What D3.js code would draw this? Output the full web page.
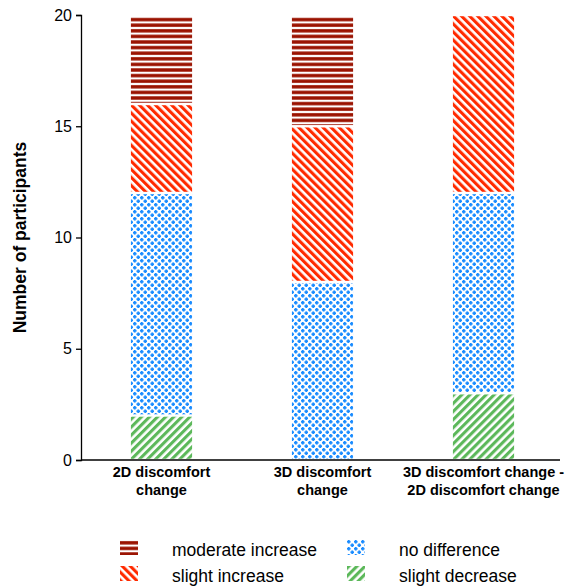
<!DOCTYPE html>
<html>
<head>
<meta charset="utf-8">
<script src="https://cdn.jsdelivr.net/npm/d3@7"></script>
<style>
  body { margin: 0; background: #fff; }
  text { font-family: "Liberation Sans", Arial, sans-serif; }
</style>
</head>
<body>
<div id="chart"></div>
<script>
// categories (two-line labels)
var categories = ["2D discomfort change", "3D discomfort change", "3D discomfort change - 2D discomfort change"];
var categoryLines = [["2D discomfort", "change"], ["3D discomfort", "change"], ["3D discomfort change -", "2D discomfort change"]];

// series values, stacked bottom to top
var seriesNames = ["slight decrease", "no difference", "slight increase", "moderate increase"];
var slightDecrease = [2, 0, 3];
var noDifference = [10, 8, 9];
var slightIncrease = [4, 7, 8];
var moderateIncrease = [4, 5, 0];

var yTicks = [0, 5, 10, 15, 20];

function init(){
    var w = 571, h = 588;
    var margin = {left: 81, right: 7, top: 15, bottom: 128};

    var svg = d3.select("#chart").append("svg")
        .attr("width", w)
        .attr("height", h);

    // patterns
    var defs = svg.append("defs");

    var pMod = defs.append("pattern").attr("id", "p-mod")
        .attr("patternUnits", "userSpaceOnUse")
        .attr("width", 8).attr("height", 5.6);
    pMod.append("rect").attr("width", 8).attr("height", 5.6).attr("fill", "#fff");
    pMod.append("rect").attr("y", 1.1).attr("width", 8).attr("height", 3.4).attr("fill", "#9a1200");

    var pSlight = defs.append("pattern").attr("id", "p-slight")
        .attr("patternUnits", "userSpaceOnUse")
        .attr("width", 5.7).attr("height", 10)
        .attr("patternTransform", "rotate(-45)");
    pSlight.append("rect").attr("width", 5.7).attr("height", 10).attr("fill", "#fff");
    pSlight.append("rect").attr("width", 3.1).attr("height", 10).attr("fill", "#ff2a00");

    var pDec = defs.append("pattern").attr("id", "p-dec")
        .attr("patternUnits", "userSpaceOnUse")
        .attr("width", 5.7).attr("height", 10)
        .attr("patternTransform", "rotate(45)");
    pDec.append("rect").attr("width", 5.7).attr("height", 10).attr("fill", "#fff");
    pDec.append("rect").attr("width", 3.1).attr("height", 10).attr("fill", "#5cb85a");

    var pNo = defs.append("pattern").attr("id", "p-no")
        .attr("patternUnits", "userSpaceOnUse")
        .attr("width", 7).attr("height", 7);
    pNo.append("rect").attr("width", 7).attr("height", 7).attr("fill", "#fff");
    [[1.75, 1.75], [5.25, 5.25]].forEach(function(c){
        pNo.append("rect").attr("x", c[0] - 1.8).attr("y", c[1] - 0.9).attr("width", 3.6).attr("height", 1.8).attr("fill", "#1a8cff");
        pNo.append("rect").attr("x", c[0] - 0.9).attr("y", c[1] - 1.8).attr("width", 1.8).attr("height", 3.6).attr("fill", "#1a8cff");
    });

    var fills = {
        "slight decrease": "url(#p-dec)",
        "no difference": "url(#p-no)",
        "slight increase": "url(#p-slight)",
        "moderate increase": "url(#p-mod)"
    };

    var x = d3.scaleBand()
        .domain(categories)
        .range([margin.left, w - margin.right])
        .paddingInner(0.62)
        .paddingOuter(0.31);

    var y = d3.scaleLinear()
        .domain([0, 20])
        .range([h - margin.bottom, margin.top]);

    // stacked data
    var table = categories.map(function(c, i){
        return {
            category: c,
            "slight decrease": slightDecrease[i],
            "no difference": noDifference[i],
            "slight increase": slightIncrease[i],
            "moderate increase": moderateIncrease[i]
        };
    });
    var stacked = d3.stack().keys(seriesNames)(table);

    var layers = svg.selectAll("g.layer")
        .data(stacked)
        .enter()
        .append("g")
        .attr("class", "layer")
        .attr("fill", function(d){ return fills[d.key]; });

    layers.selectAll("rect")
        .data(function(d){ return d.filter(function(s){ return s[1] > s[0]; }); })
        .enter()
        .append("rect")
        .attr("x", function(d){ return x(d.data.category); })
        .attr("y", function(d){ return y(d[1]) + 1.2; })
        .attr("width", x.bandwidth())
        .attr("height", function(d){ return y(d[0]) - y(d[1]) - 2.4; });

    // y axis
    var yAxis = svg.append("g")
        .attr("transform", "translate(" + margin.left + ",0)")
        .call(d3.axisLeft(y).tickValues(yTicks).tickSize(5).tickPadding(4));
    yAxis.select(".domain").attr("stroke", "#000").attr("stroke-width", 1.3);
    yAxis.selectAll(".tick line").attr("stroke", "#000").attr("stroke-width", 1.3);
    yAxis.selectAll(".tick text").attr("font-size", 16).attr("fill", "#000")
        .style("font-family", "'Liberation Sans', Arial, sans-serif");

    // x axis line
    svg.append("line")
        .attr("x1", margin.left).attr("x2", w - margin.right - 4)
        .attr("y1", y(0)).attr("y2", y(0))
        .attr("stroke", "#000").attr("stroke-width", 1.3);

    // x labels
    svg.selectAll("text.xlab")
        .data(categoryLines)
        .enter()
        .append("text")
        .attr("class", "xlab")
        .attr("text-anchor", "middle")
        .attr("font-size", 14.5)
        .attr("font-weight", "bold")
        .attr("x", function(d, i){ return x(categories[i]) + x.bandwidth() / 2; })
        .attr("y", y(0) + 17)
        .selectAll("tspan")
        .data(function(d){ return d; })
        .enter()
        .append("tspan")
        .attr("x", function(){ return d3.select(this.parentNode).attr("x"); })
        .attr("dy", function(d, i){ return i === 0 ? 0 : 17.5; })
        .text(function(d){ return d; });

    // y axis title
    svg.append("text")
        .attr("transform", "translate(26," + y(10) + ") rotate(-90)")
        .attr("text-anchor", "middle")
        .attr("font-size", 17.5)
        .attr("font-weight", "bold")
        .text("Number of participants");

    // legend
    var legendItems = [
        {name: "moderate increase", col: 0, row: 0},
        {name: "no difference", col: 1, row: 0},
        {name: "slight increase", col: 0, row: 1},
        {name: "slight decrease", col: 1, row: 1}
    ];
    var legend = svg.selectAll("g.legend")
        .data(legendItems)
        .enter()
        .append("g")
        .attr("class", "legend")
        .attr("transform", function(d){
            return "translate(" + (120 + d.col * 227) + "," + (540 + d.row * 26) + ")";
        });
    legend.append("rect")
        .attr("width", 18).attr("height", 15)
        .attr("fill", function(d){ return fills[d.name]; });
    legend.append("text")
        .attr("x", 52)
        .attr("y", 15.5)
        .attr("font-size", 17.5)
        .attr("fill", "#000")
        .text(function(d){ return d.name; });
}
window.onload = init;
</script>
</body>
</html>
